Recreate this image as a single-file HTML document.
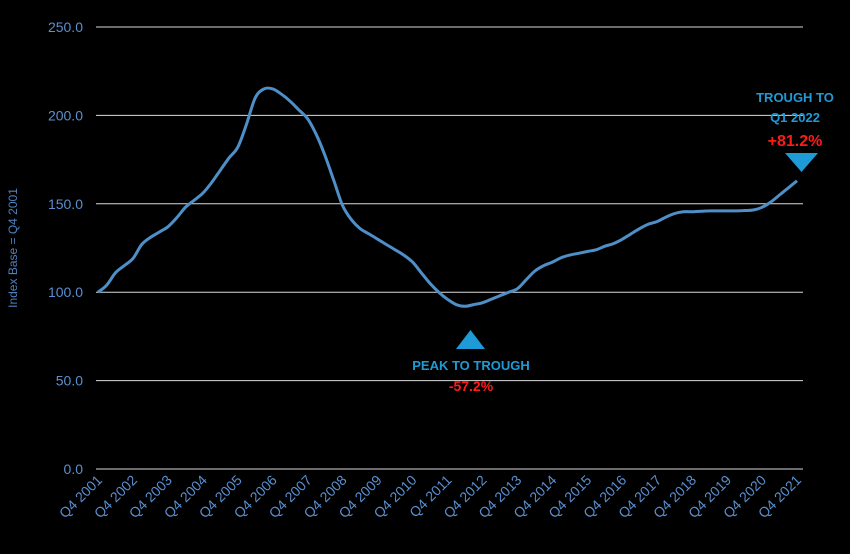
<!DOCTYPE html>
<html><head><meta charset="utf-8"><style>
html,body{margin:0;padding:0;background:#000;}
svg{display:block;font-family:"Liberation Sans",Arial,sans-serif;}
</style></head><body>
<svg id="chart" width="850" height="554" viewBox="0 0 850 554">
<rect width="850" height="554" fill="#000"/>
<g id="grid"></g><g id="ylabels"></g><g id="xlabels"></g>
<text transform="translate(17,248) rotate(-90)" text-anchor="middle" fill="#4f81bd" font-size="12">Index Base = Q4 2001</text>
<path id="line" fill="none" stroke="#4f8fc8" stroke-width="3" stroke-linejoin="round"/>
<polygon points="456,349 485,349 470.5,330" fill="#1e9bd7"/>
<text x="471" y="370" text-anchor="middle" fill="#1e9bd7" font-size="13" font-weight="bold">PEAK TO TROUGH</text>
<text x="471" y="391" text-anchor="middle" fill="#ff1a1a" font-size="14" font-weight="bold">-57.2%</text>
<polygon points="785,153 818,153 801.5,172" fill="#1e9bd7"/>
<text x="795" y="102" text-anchor="middle" fill="#1e9bd7" font-size="13" font-weight="bold">TROUGH TO</text>
<text x="795" y="122" text-anchor="middle" fill="#1e9bd7" font-size="13" font-weight="bold">Q1 2022</text>
<text x="795" y="146" text-anchor="middle" fill="#ff1a1a" font-size="16" font-weight="bold">+81.2%</text>
</svg>
<script>
const years = [2001,2002,2003,2004,2005,2006,2007,2008,2009,2010,2011,2012,2013,2014,2015,2016,2017,2018,2019,2020,2021];
const yTicks = [0,50,100,150,200,250];
const values = [100,
104,111,115,119, 127,131,134,137, 142,148,152,156, 162,169,176,182,
195,210,215,215, 212,208,203,198, 189,177,163,149, 141,136,133,130,
127,124,121,117, 111,105,100,96, 93,92,93,94, 96,98,100,102,
107,112,115,117, 119.5,121,122,123, 124,126,127.5,130, 133,136,138.5,140,
142.5,144.5,145.5,145.5, 145.8,146,146,146, 146,146.2,146.5,148, 151,155,159,163];
const NS="http://www.w3.org/2000/svg";
const x0=98,x1=797,y0=469,yTop=27;
const xs=i=>x0+(x1-x0)*i/(values.length-1);
const ys=v=>y0-(y0-yTop)*v/250;
const grid=document.getElementById('grid'),yl=document.getElementById('ylabels'),xl=document.getElementById('xlabels');
yTicks.forEach(t=>{
 const l=document.createElementNS(NS,'line');
 
 
 l.setAttribute('x1',96);l.setAttribute('x2',803);l.setAttribute('y1',ys(t));l.setAttribute('y2',ys(t));
 l.setAttribute('stroke','#d9d9d9');l.setAttribute('stroke-width','1');grid.appendChild(l);
 const tx=document.createElementNS(NS,'text');
 
 
 tx.setAttribute('x',83);tx.setAttribute('y',ys(t)+5);tx.setAttribute('text-anchor','end');
 tx.setAttribute('fill','#5a8fd0');tx.setAttribute('font-size','14');tx.textContent=t.toFixed(1);yl.appendChild(tx);
});
years.forEach((y,k)=>{
 const x=xs(k*4);
 const tx=document.createElementNS(NS,'text');
 
 
 tx.setAttribute('transform','translate('+(x+5)+',481) rotate(-45)');
 tx.setAttribute('text-anchor','end');tx.setAttribute('fill','#5a8fd0');tx.setAttribute('font-size','14');
 tx.textContent='Q4 '+y;xl.appendChild(tx);
});
const pts=values.map((v,i)=>[xs(i),ys(v)]);
let d='M'+pts[0][0].toFixed(1)+','+pts[0][1].toFixed(1);
for(let i=0;i<pts.length-1;i++){
 const p0=pts[Math.max(0,i-1)],p1=pts[i],p2=pts[i+1],p3=pts[Math.min(pts.length-1,i+2)];
 const c1=[p1[0]+(p2[0]-p0[0])/6,p1[1]+(p2[1]-p0[1])/6];
 const c2=[p2[0]-(p3[0]-p1[0])/6,p2[1]-(p3[1]-p1[1])/6];
 d+='C'+c1[0].toFixed(1)+','+c1[1].toFixed(1)+' '+c2[0].toFixed(1)+','+c2[1].toFixed(1)+' '+p2[0].toFixed(1)+','+p2[1].toFixed(1);
}
document.getElementById('line').setAttribute('d',d);
</script>
</body></html>
